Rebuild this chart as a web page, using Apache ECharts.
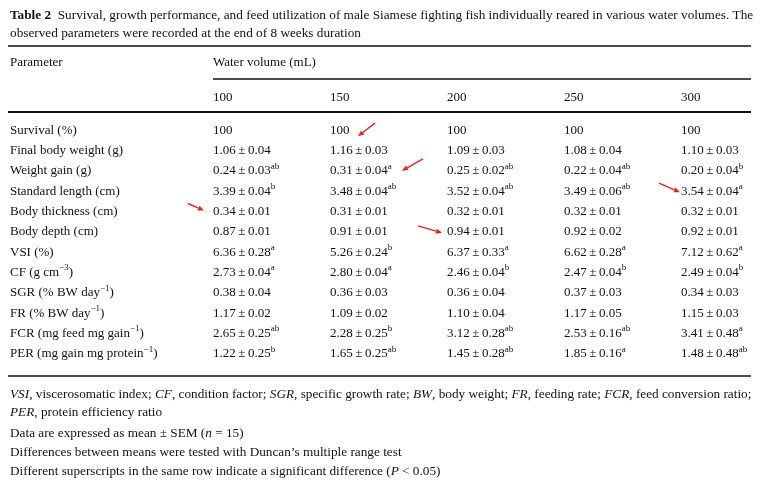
<!DOCTYPE html>
<html>
<head>
<meta charset="utf-8">
<script src="https://cdn.jsdelivr.net/npm/echarts@6/dist/echarts.min.js"></script>
<style>
html, body { margin: 0; padding: 0; background: #fff; }
#main { width: 770px; height: 488px; }
</style>
</head>
<body>
<div id="main"></div>
<script>
var volumes = ['100', '150', '200', '250', '300'];
var params = [
    'Survival (%)',
    'Final body weight (g)',
    'Weight gain (g)',
    'Standard length (cm)',
    'Body thickness (cm)',
    'Body depth (cm)',
    'VSI (%)',
    'CF (g cm{s|\u22123})',
    'SGR (% BW day{s|\u22121})',
    'FR (% BW day{s|\u22121})',
    'FCR (mg feed mg gain{s|\u22121})',
    'PER (mg gain mg protein{s|\u22121})'
];

// [mean, SEM, superscript] per water volume
var survival = [100, 100, 100, 100, 100];
var finalWeight = [[1.06, 0.04, ''], [1.16, 0.03, ''], [1.09, 0.03, ''], [1.08, 0.04, ''], [1.10, 0.03, '']];
var weightGain = [[0.24, 0.03, 'ab'], [0.31, 0.04, 'a'], [0.25, 0.02, 'ab'], [0.22, 0.04, 'ab'], [0.20, 0.04, 'b']];
var stdLength = [[3.39, 0.04, 'b'], [3.48, 0.04, 'ab'], [3.52, 0.04, 'ab'], [3.49, 0.06, 'ab'], [3.54, 0.04, 'a']];
var thickness = [[0.34, 0.01, ''], [0.31, 0.01, ''], [0.32, 0.01, ''], [0.32, 0.01, ''], [0.32, 0.01, '']];
var depth = [[0.87, 0.01, ''], [0.91, 0.01, ''], [0.94, 0.01, ''], [0.92, 0.02, ''], [0.92, 0.01, '']];
var vsi = [[6.36, 0.28, 'a'], [5.26, 0.24, 'b'], [6.37, 0.33, 'a'], [6.62, 0.28, 'a'], [7.12, 0.62, 'a']];
var cf = [[2.73, 0.04, 'a'], [2.80, 0.04, 'a'], [2.46, 0.04, 'b'], [2.47, 0.04, 'b'], [2.49, 0.04, 'b']];
var sgr = [[0.38, 0.04, ''], [0.36, 0.03, ''], [0.36, 0.04, ''], [0.37, 0.03, ''], [0.34, 0.03, '']];
var fr = [[1.17, 0.02, ''], [1.09, 0.02, ''], [1.10, 0.04, ''], [1.17, 0.05, ''], [1.15, 0.03, '']];
var fcr = [[2.65, 0.25, 'ab'], [2.28, 0.25, 'b'], [3.12, 0.28, 'ab'], [2.53, 0.16, 'ab'], [3.41, 0.48, 'a']];
var per = [[1.22, 0.25, 'b'], [1.65, 0.25, 'ab'], [1.45, 0.28, 'ab'], [1.85, 0.16, 'a'], [1.48, 0.48, 'ab']];

var titleLines = [
    '{b|Table 2}  Survival, growth performance, and feed utilization of male Siamese fighting fish individually reared in various water volumes. The',
    'observed parameters were recorded at the end of 8 weeks duration'
];
var notes = [
    '{i|VSI}, viscerosomatic index; {i|CF}, condition factor; {i|SGR}, specific growth rate; {i|BW}, body weight; {i|FR}, feeding rate; {i|FCR}, feed conversion ratio;',
    '{i|PER}, protein efficiency ratio',
    'Data are expressed as mean \u00b1 SEM ({i|n} = 15)',
    'Differences between means were tested with Duncan\u2019s multiple range test',
    'Different superscripts in the same row indicate a significant difference ({i|P} < 0.05)'
];
// red arrows: [row, col, tail dx, tail dy, tip dx, tip dy] relative to the cell anchor
var arrows = [
    [0, 1, 45, -7, 28, 6],
    [2, 2, -24, -12, -45, 0],
    [3, 4, -22, -8, -1, 1],
    [4, 0, -25, -8, -9, -1],
    [5, 2, -29, -6, -5, 1]
];

var rows = [survival, finalWeight, weightGain, stdLength, thickness, depth, vsi, cf, sgr, fr, fcr, per];

var FONT = '"Liberation Serif", "Times New Roman", serif';
var FS = 13;
var FS2 = 13.25;
var INK = '#111';
var RED = '#e8231b';

var cells = [];
rows.forEach(function (row, r) {
    row.forEach(function (v, c) {
        var txt;
        if (typeof v === 'number') {
            txt = String(v);
        } else {
            txt = v[0].toFixed(2) + '\u2009\u00b1\u2009' + v[1].toFixed(2) + (v[2] ? '{s|' + v[2] + '}' : '');
        }
        cells.push([c, r, txt]);
    });
});

var supStyle = { fontFamily: FONT, fontSize: 9, verticalAlign: 'top', lineHeight: 10, fill: INK, color: INK };

var myChart = echarts.init(document.getElementById('main'));

var option = {
    animation: false,
    backgroundColor: '#fff',
    grid: { left: 213, right: 89, top: 120, bottom: 124 },
    xAxis: {
        type: 'category',
        data: volumes,
        position: 'top',
        boundaryGap: false,
        axisLine: { show: false },
        axisTick: { show: false },
        splitLine: { show: false },
        axisLabel: {
            align: 'left',
            margin: 16,
            color: INK,
            fontFamily: FONT,
            fontSize: FS
        }
    },
    yAxis: {
        type: 'category',
        data: params,
        inverse: true,
        axisLine: { show: false },
        axisTick: { show: false },
        splitLine: { show: false },
        axisLabel: {
            align: 'left',
            margin: 203,
            color: INK,
            fontFamily: FONT,
            fontSize: FS,
            lineHeight: 18,
            rich: { s: supStyle }
        }
    },
    series: [{
        type: 'custom',
        data: cells,
        silent: true,
        renderItem: function (p, api) {
            var pt = api.coord([api.value(0), api.value(1)]);
            return {
                type: 'text',
                x: pt[0],
                y: pt[1],
                style: {
                    text: cells[p.dataIndex][2],
                    fill: INK,
                    fontFamily: FONT,
                    fontSize: FS,
                    lineHeight: 18,
                    verticalAlign: 'middle',
                    rich: { s: supStyle }
                }
            };
        }
    }]
};
myChart.setOption(option);

function txt(x, y, text, size) {
    return {
        type: 'text', x: x, y: y, silent: true,
        style: {
            text: text, fill: INK, fontFamily: FONT, fontSize: size || FS, verticalAlign: 'middle',
            rich: {
                b: { fontFamily: FONT, fontSize: size || FS, fontWeight: 'bold', fill: INK, color: INK },
                i: { fontFamily: FONT, fontSize: size || FS, fontStyle: 'italic', fill: INK, color: INK }
            }
        }
    };
}
function rule(x1, x2, y, w) {
    return { type: 'line', silent: true, shape: { x1: x1, y1: y, x2: x2, y2: y }, style: { stroke: INK, lineWidth: w } };
}

var g = [];
g.push(txt(10, 16, titleLines[0], FS2));
g.push(txt(10, 34, titleLines[1], FS2));
g.push(rule(8, 751, 46, 1.6));
g.push(txt(10, 63, 'Parameter'));
g.push(txt(213, 63, 'Water volume (mL)'));
g.push(rule(213, 751, 79, 1.3));
g.push(rule(8, 751, 112, 2));
g.push(rule(8, 751, 376, 1.3));
var noteY = [395, 413, 434, 453, 472];
notes.forEach(function (n, i) { g.push(txt(10, noteY[i], n, FS2)); });

arrows.forEach(function (a) {
    var base = myChart.convertToPixel({ gridIndex: 0 }, [a[1], a[0]]);
    var x1 = base[0] + a[2], y1 = base[1] + a[3];
    var x2 = base[0] + a[4], y2 = base[1] + a[5];
    var ang = Math.atan2(y2 - y1, x2 - x1);
    var L = 6, W = 2.6;
    var bx = x2 - L * Math.cos(ang), by = y2 - L * Math.sin(ang);
    var nx = -Math.sin(ang) * W, ny = Math.cos(ang) * W;
    g.push({ type: 'line', silent: true, shape: { x1: x1, y1: y1, x2: bx, y2: by }, style: { stroke: RED, lineWidth: 1.4 } });
    g.push({ type: 'polygon', silent: true, shape: { points: [[x2, y2], [bx + nx, by + ny], [bx - nx, by - ny]] }, style: { fill: RED } });
});

myChart.setOption({ graphic: g });
</script>
</body>
</html>
